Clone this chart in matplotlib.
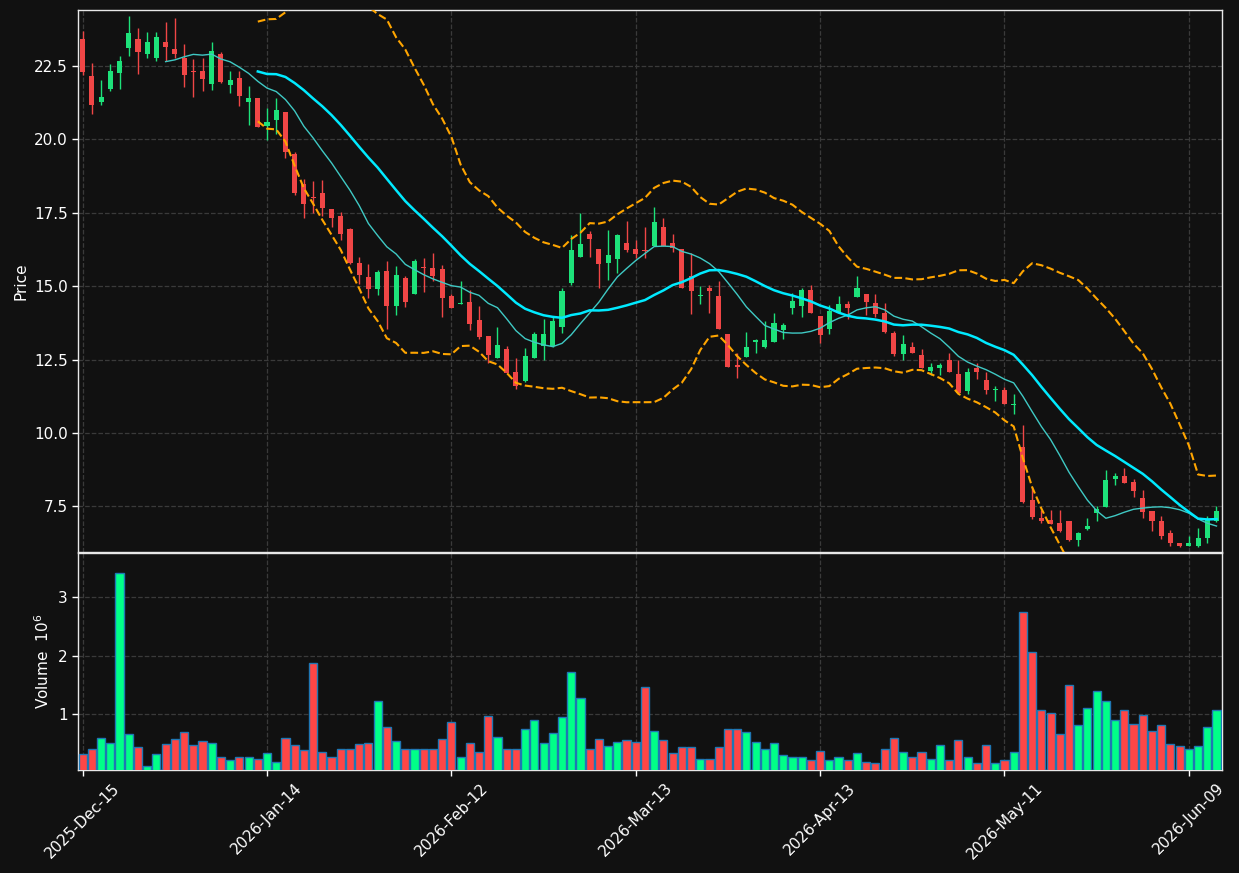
"""
Candlestick + volume chart (dark theme) with 10/20 moving averages and
20-period Bollinger bands. Values read off the reference picture.
"""

import matplotlib
matplotlib.use("Agg")
import matplotlib.pyplot as plt
import numpy as np
import pandas as pd

BG = "#111111"
UP_COLOR = "#1de27a"
DOWN_COLOR = "#f04646"
VOL_UP = "#00ff88"
VOL_DOWN = "#ff4646"
VOL_EDGE = "#1f77b4"
MA_FAST_COLOR = "#3fc9c4"
MA_SLOW_COLOR = "#00eaff"
BAND_COLOR = "#ffa500"
GRID_COLOR = "#3a3a3a"

TICK_POS = [0, 20, 40, 60, 80, 100, 120]
TICK_LABELS = ["2025-Dec-15", "2026-Jan-14", "2026-Feb-12", "2026-Mar-13",
               "2026-Apr-13", "2026-May-11", "2026-Jun-09"]

opens = [
    23.42, 22.16, 21.27, 21.72, 22.24, 23.09, 23.42, 22.89, 22.78, 23.31,
    23.08, 22.77, 22.30, 22.32, 21.89, 22.90, 21.86, 22.09, 21.25, 21.41,
    20.45, 20.65, 20.94, 19.48, 18.46, 18.05, 18.18, 17.61, 17.40, 16.93,
    15.80, 15.30, 14.89, 15.53, 14.34, 15.26, 14.74, 15.66, 15.60, 15.57,
    14.65, 14.39, 14.45, 13.83, 13.29, 12.56, 12.85, 12.07, 11.76, 12.56,
    12.97, 12.97, 13.61, 15.09, 15.98, 16.76, 16.28, 15.78, 15.92, 16.46,
    16.26, 16.23, 16.35, 17.00, 16.46, 16.26, 15.35, 14.65, 14.93, 14.65,
    13.36, 12.31, 12.59, 13.10, 12.92, 13.10, 13.50, 14.24, 14.34, 14.86,
    13.98, 13.54, 14.10, 14.39, 14.62, 14.72, 14.41, 14.07, 13.39, 12.69,
    12.92, 12.65, 12.12, 12.21, 12.47, 12.00, 11.43, 12.20, 11.80, 11.46,
    11.45, 10.94, 9.52, 7.71, 7.10, 7.04, 6.95, 7.00, 6.36, 6.74,
    7.28, 7.49, 8.43, 8.52, 8.34, 7.80, 7.35, 7.02, 6.60, 6.26,
    6.17, 6.17, 6.44, 7.02,
]
highs = [
    23.69, 22.59, 22.02, 22.57, 22.84, 24.20, 23.79, 23.65, 23.65, 23.98,
    24.12, 23.23, 22.72, 22.76, 23.30, 22.98, 22.31, 22.33, 21.80, 21.41,
    21.07, 21.39, 20.94, 19.56, 18.65, 18.59, 18.61, 17.61, 17.53, 16.98,
    15.99, 15.74, 15.54, 15.86, 15.69, 15.35, 15.93, 15.96, 16.13, 15.72,
    14.72, 15.19, 14.86, 14.33, 13.29, 13.60, 12.97, 12.57, 12.91, 13.44,
    13.89, 13.95, 14.92, 16.75, 17.49, 16.88, 16.28, 16.92, 16.79, 17.23,
    16.56, 17.00, 17.70, 17.33, 16.76, 16.26, 16.14, 15.02, 15.04, 15.19,
    13.36, 12.71, 13.45, 13.21, 13.80, 14.09, 13.74, 14.78, 14.92, 15.05,
    13.98, 14.36, 14.68, 14.48, 15.33, 14.72, 14.74, 14.41, 13.48, 13.35,
    13.09, 12.85, 12.39, 12.39, 12.71, 12.50, 12.20, 12.38, 12.06, 11.61,
    11.55, 11.32, 10.26, 8.16, 7.37, 7.39, 7.39, 7.00, 6.63, 7.12,
    7.51, 8.75, 8.63, 8.81, 8.43, 8.05, 7.35, 7.19, 6.69, 6.26,
    6.48, 6.76, 7.16, 7.52,
]
lows = [
    22.18, 20.86, 21.15, 21.63, 21.71, 22.83, 22.22, 22.75, 22.65, 22.65,
    22.75, 21.78, 21.44, 21.64, 21.67, 21.91, 21.57, 21.13, 20.48, 20.41,
    19.97, 20.19, 19.36, 18.11, 17.32, 17.49, 17.37, 17.02, 16.57, 15.74,
    15.07, 14.60, 14.69, 13.54, 14.03, 14.28, 14.74, 14.81, 15.17, 13.95,
    14.24, 14.39, 13.51, 13.21, 12.39, 12.56, 12.05, 11.50, 11.72, 12.56,
    12.50, 12.92, 13.39, 15.05, 15.98, 15.99, 14.95, 15.21, 15.45, 16.17,
    15.95, 15.97, 16.35, 16.37, 16.16, 14.95, 14.05, 14.39, 14.09, 13.54,
    12.24, 11.86, 12.59, 12.73, 12.89, 13.10, 13.21, 14.04, 13.95, 14.10,
    13.06, 13.36, 14.10, 13.89, 14.62, 14.01, 13.95, 13.39, 12.61, 12.50,
    12.71, 12.21, 11.97, 11.97, 12.08, 11.35, 11.32, 11.85, 11.32, 11.09,
    11.00, 10.64, 7.63, 7.09, 6.95, 6.90, 6.63, 6.33, 6.15, 6.69,
    7.02, 7.49, 8.22, 8.30, 7.81, 7.10, 6.68, 6.39, 6.16, 6.11,
    6.14, 6.11, 6.25, 6.98,
]
closes = [
    22.30, 21.15, 21.45, 22.32, 22.67, 23.62, 22.98, 23.31, 23.48, 23.13,
    22.90, 22.19, 22.28, 22.06, 23.01, 21.96, 22.03, 21.46, 21.41, 20.41,
    20.60, 21.00, 19.56, 18.18, 17.79, 18.00, 17.65, 17.32, 16.76, 15.78,
    15.37, 14.89, 15.48, 14.33, 15.37, 14.46, 15.84, 15.61, 15.33, 14.60,
    14.24, 14.41, 13.71, 13.28, 12.65, 12.98, 12.05, 11.60, 12.61, 13.36,
    13.36, 13.80, 14.82, 16.22, 16.45, 16.59, 15.74, 16.05, 16.73, 16.22,
    16.09, 16.20, 17.17, 16.38, 16.29, 14.95, 14.84, 14.69, 14.83, 13.54,
    12.24, 12.26, 12.92, 13.15, 13.18, 13.74, 13.67, 14.48, 14.86, 14.10,
    13.32, 14.15, 14.39, 14.24, 14.95, 14.46, 14.04, 13.44, 12.69, 13.04,
    12.71, 12.21, 12.24, 12.32, 12.08, 11.35, 12.06, 12.08, 11.47, 11.49,
    11.00, 10.98, 7.65, 7.13, 7.02, 6.90, 6.66, 6.36, 6.59, 6.84,
    7.43, 8.40, 8.54, 8.30, 8.02, 7.30, 6.99, 6.48, 6.27, 6.17,
    6.26, 6.43, 7.07, 7.35,
]
# volume in millions of shares
volume_m = [
    0.316, 0.400, 0.600, 0.516, 3.410, 0.658, 0.447, 0.123, 0.316, 0.487,
    0.584, 0.692, 0.470, 0.538, 0.504, 0.265, 0.225, 0.276, 0.276, 0.231,
    0.333, 0.179, 0.600, 0.470, 0.385, 1.872, 0.350, 0.265, 0.400, 0.400,
    0.487, 0.504, 1.217, 0.778, 0.550, 0.413, 0.413, 0.400, 0.400, 0.584,
    0.863, 0.276, 0.504, 0.350, 0.966, 0.618, 0.413, 0.400, 0.744, 0.897,
    0.504, 0.675, 0.949, 1.718, 1.274, 0.413, 0.584, 0.453, 0.521, 0.556,
    0.521, 1.467, 0.709, 0.556, 0.333, 0.436, 0.436, 0.231, 0.231, 0.436,
    0.744, 0.744, 0.692, 0.521, 0.400, 0.504, 0.300, 0.265, 0.265, 0.214,
    0.368, 0.214, 0.265, 0.214, 0.333, 0.179, 0.162, 0.400, 0.590, 0.350,
    0.265, 0.350, 0.231, 0.470, 0.214, 0.556, 0.276, 0.162, 0.470, 0.162,
    0.214, 0.350, 2.744, 2.060, 1.068, 1.017, 0.658, 1.496, 0.812, 1.103,
    1.393, 1.222, 0.897, 1.068, 0.829, 0.989, 0.709, 0.812, 0.487, 0.453,
    0.400, 0.453, 0.778, 1.068,
]

df = pd.DataFrame({"open": opens, "high": highs, "low": lows,
                   "close": closes, "volume": volume_m})
x = np.arange(len(df))
up = df["close"] >= df["open"]

# moving averages + bollinger bands, same as mplfinance would do
ma_fast = df["close"].rolling(10).mean()
ma_slow = df["close"].rolling(20).mean()
band_std = df["close"].rolling(20).std()
upper = ma_slow + 2 * band_std
lower = ma_slow - 2 * band_std

fig = plt.figure(figsize=(12.39, 8.73), dpi=100)
fig.patch.set_facecolor(BG)
ax = fig.add_axes([0.063, 0.3677, 0.9233, 0.6209])
axv = fig.add_axes([0.063, 0.118, 0.9233, 0.2486], sharex=ax)

for a in (ax, axv):
    a.set_facecolor(BG)
    a.grid(True, color=GRID_COLOR, linestyle="--", linewidth=0.9)
    a.set_axisbelow(True)
    for spine in a.spines.values():
        spine.set_color("#e8e8e8")
        spine.set_linewidth(1.0)
    a.tick_params(colors="white", labelsize=11, width=1, length=4)

# candles
colors = np.where(up, UP_COLOR, DOWN_COLOR)
body_low = np.minimum(df["open"], df["close"])
body_h = (df["open"] - df["close"]).abs().clip(lower=0.03)
ax.vlines(x, df["low"], df["high"], colors=colors, linewidth=1.0, zorder=2)
ax.bar(x, body_h, bottom=body_low, width=0.55, color=colors, linewidth=0, zorder=3)

ax.plot(x, ma_fast, color=MA_FAST_COLOR, linewidth=1.0, zorder=4)
ax.plot(x, ma_slow, color=MA_SLOW_COLOR, linewidth=1.8, zorder=4)
ax.plot(x, upper, color=BAND_COLOR, linewidth=1.5, linestyle="--", zorder=4)
ax.plot(x, lower, color=BAND_COLOR, linewidth=1.5, linestyle="--", zorder=4)

ax.set_ylim(5.95, 24.40)
ax.set_yticks([7.5, 10.0, 12.5, 15.0, 17.5, 20.0, 22.5])
ax.set_ylabel("Price", color="white", fontsize=11)
ax.tick_params(axis="x", labelbottom=False)

# volume
vol_colors = np.where(up, VOL_UP, VOL_DOWN)
axv.bar(x, df["volume"], width=0.88, color=vol_colors, edgecolor=VOL_EDGE,
        linewidth=1.0, zorder=3)
axv.set_ylim(0.048, 3.75)
axv.set_yticks([1, 2, 3])
axv.set_ylabel("Volume  $10^6$", color="white", fontsize=11)

axv.set_xlim(-0.5, 123.6)
axv.set_xticks(TICK_POS)
axv.set_xticklabels(TICK_LABELS, rotation=45, ha="center")

fig.savefig("out.png", dpi=100, facecolor=BG)
